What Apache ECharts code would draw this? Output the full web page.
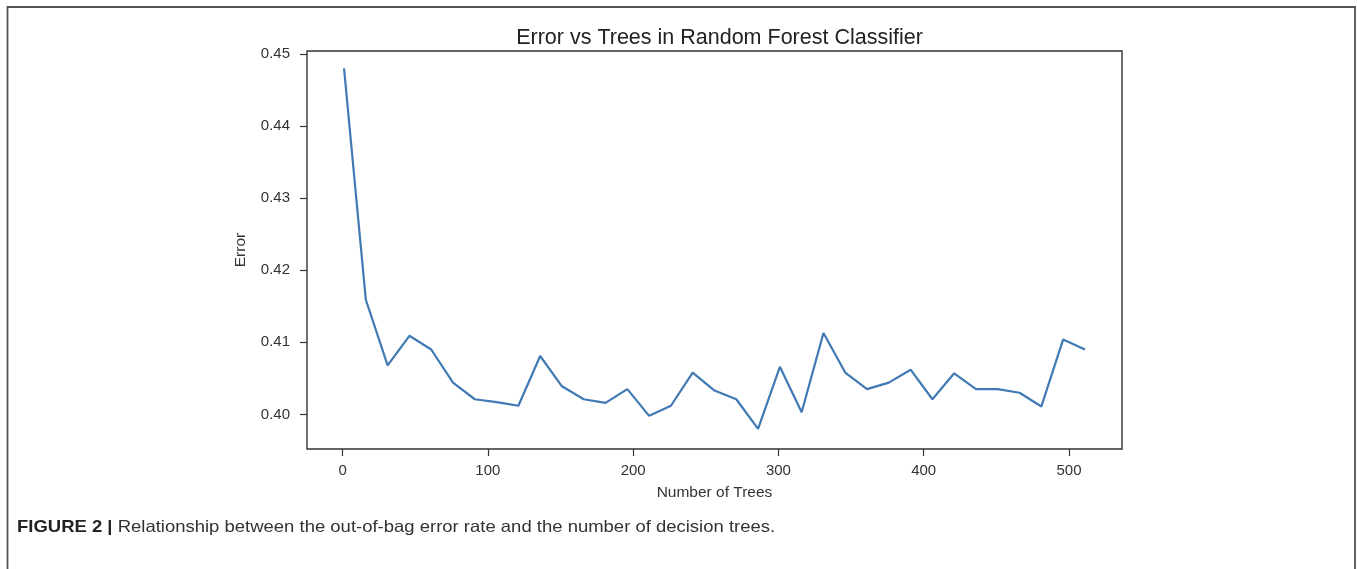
<!DOCTYPE html>
<html>
<head>
<meta charset="utf-8">
<script src="https://cdn.jsdelivr.net/npm/echarts@6/dist/echarts.min.js"></script>
<style>
html,body{margin:0;padding:0;background:#fff;}
#c{width:1357px;height:569px;}
</style>
</head>
<body>
<div id="c"></div>
<script>
const treeCounts = [1,16,31,46,61,76,91,106,121,136,151,166,181,196,211,226,241,256,271,286,301,316,331,346,361,376,391,406,421,436,451,466,481,496,511];
const errorValues = [0.4480,0.4159,0.4068,0.4109,0.4090,0.4044,0.4021,0.4017,0.4012,0.4081,0.4039,0.4021,0.4016,0.4035,0.3998,0.4012,0.4058,0.4033,0.4021,0.3980,0.4066,0.4003,0.4113,0.4058,0.4035,0.4044,0.4062,0.4021,0.4057,0.4035,0.4035,0.4030,0.4011,0.4104,0.4090];
const xTicks = [0,100,200,300,400,500];
const yTicks = [0.40,0.41,0.42,0.43,0.44,0.45];
const titleText = 'Error vs Trees in Random Forest Classifier';
const xName = 'Number of Trees';
const yName = 'Error';
const captionBold = 'FIGURE 2 |';
const captionText = ' Relationship between the out-of-bag error rate and the number of decision trees.';

const chart = echarts.init(document.getElementById('c'));
const font = '"Liberation Sans", Arial, sans-serif';
chart.setOption({
  animation: false,
  backgroundColor: '#fff',
  title: {
    text: titleText,
    left: 714.5, top: 22, textAlign: 'center',
    textStyle: {fontFamily: font, fontSize: 21.5, fontWeight: 'normal', color: '#222'}
  },
  grid: {left: 307, top: 51, right: 235, bottom: 120, show: true, borderColor: '#333', borderWidth: 1.4, backgroundColor: 'transparent'},
  xAxis: {
    type: 'value', min: -24.5, max: 536.5,
    name: xName, nameLocation: 'middle', nameGap: 36,
    nameTextStyle: {fontFamily: font, fontSize: 15.5, color: '#333'},
    axisLine: {show: false, onZero: false},
    splitLine: {show: false},
    axisTick: {show: true, length: 7, customValues: xTicks, lineStyle: {color: '#333', width: 1.2}},
    axisLabel: {customValues: xTicks, margin: 14, fontFamily: font, fontSize: 15, color: '#333'}
  },
  yAxis: {
    type: 'value', min: 0.3952, max: 0.4504,
    name: yName, nameLocation: 'middle', nameGap: 58, nameRotate: 90,
    nameTextStyle: {fontFamily: font, fontSize: 15.5, color: '#333'},
    axisLine: {show: false, onZero: false},
    splitLine: {show: false},
    axisTick: {show: true, length: 7, customValues: yTicks, lineStyle: {color: '#333', width: 1.2}},
    axisLabel: {customValues: yTicks, margin: 17, fontFamily: font, fontSize: 15, color: '#333',
      formatter: v => v.toFixed(2)}
  },
  series: [{
    type: 'line',
    data: treeCounts.map((t, i) => [t, errorValues[i]]),
    showSymbol: false,
    lineStyle: {color: '#4079b3', width: 2.2},
    z: 3
  }],
  graphic: [
    {type: 'polyline', shape: {points: [[7.5, 580], [7.5, 7], [1355, 7], [1355, 580]]},
      style: {stroke: '#555', lineWidth: 1.8, fill: null}},
    {type: 'text', x: 17, y: 519, scaleX: 1.12,
      style: {
        text: '{b|' + captionBold + '}{r|' + captionText + '}',
        rich: {
          b: {fontFamily: font, fontSize: 16.5, fontWeight: 'bold', fill: '#222'},
          r: {fontFamily: font, fontSize: 16.5, fill: '#333'}
        }
      }}
  ]
});
</script>
</body>
</html>
